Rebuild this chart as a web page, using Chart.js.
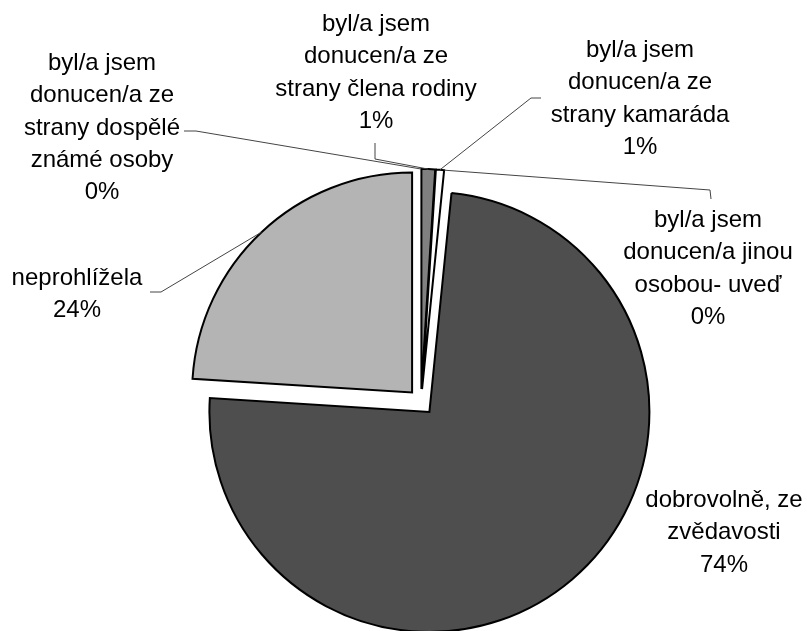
<!DOCTYPE html>
<html>
<head>
<meta charset="utf-8">
<script src="https://cdn.jsdelivr.net/npm/chart.js@4"></script>
<style>
  html, body { margin: 0; padding: 0; background: #fff; }
</style>
</head>
<body>
<canvas id="myChart" width="807" height="631"></canvas>
<script>
// slices in clockwise order from 12 o'clock
const labelLines = [
  ["byl/a jsem", "donucen/a ze", "strany člena rodiny"],
  ["byl/a jsem", "donucen/a ze", "strany kamaráda"],
  ["byl/a jsem", "donucen/a jinou", "osobou- uveď"],
  ["dobrovolně, ze", "zvědavosti"],
  ["neprohlížela"],
  ["byl/a jsem", "donucen/a ze", "strany dospělé", "známé osoby"]
];
const values = [1.0, 0.6, 0, 74.4, 24.0, 0];

const sliceColors = ["#808080", "#ffffff", "#ffffff", "#4e4e4e", "#b4b4b4", "#ffffff"];
const explode = [13, 13, 13, 13, 13, 13];

// where each data label sits (centre x, first baseline) and its leader start
const labelLayout = [
  { x: 376, y: 31, leader: [[375, 143], [375, 159]] },
  { x: 640, y: 57, leader: [[541, 98], [531, 98]] },
  { x: 708, y: 227, leader: [[711, 199], [710, 190]] },
  { x: 724, y: 507, leader: null },
  { x: 77, y: 285, leader: [[150, 292], [161, 292]] },
  { x: 102, y: 70, leader: [[184, 131], [196, 131]] }
];
const lineHeight = 32.3;

const total = values.reduce((a, b) => a + b, 0);
function pct(v) {
  return Math.round(v / total * 100) + "%";
}

const explodePlugin = {
  id: "explode",
  beforeDatasetDraw(chart, args) {
    const ctx = chart.ctx;
    args.meta.data.forEach((arc, i) => {
      if (!arc.circumference) return;
      const mid = (arc.startAngle + arc.endAngle) / 2;
      ctx.save();
      ctx.translate(Math.cos(mid) * explode[i], Math.sin(mid) * explode[i]);
      arc.draw(ctx, chart.chartArea);
      ctx.restore();
    });
    return false;
  }
};

const labelPlugin = {
  id: "pieLabels",
  afterDraw(chart) {
    const ctx = chart.ctx;
    const meta = chart.getDatasetMeta(0);
    ctx.save();
    ctx.font = '24px "Liberation Sans", Arial, sans-serif';
    ctx.fillStyle = "#000";
    ctx.textAlign = "center";
    ctx.textBaseline = "alphabetic";
    meta.data.forEach((arc, i) => {
      const lay = labelLayout[i];
      const lines = labelLines[i].concat([pct(values[i])]);
      lines.forEach((t, k) => ctx.fillText(t, lay.x, lay.y + k * lineHeight));
      if (lay.leader) {
        const mid = (arc.startAngle + arc.endAngle) / 2;
        const r = arc.outerRadius + explode[i];
        ctx.strokeStyle = "#444";
        ctx.lineWidth = 1;
        ctx.beginPath();
        ctx.moveTo(lay.leader[0][0], lay.leader[0][1]);
        for (let k = 1; k < lay.leader.length; k++) {
          ctx.lineTo(lay.leader[k][0], lay.leader[k][1]);
        }
        ctx.lineTo(arc.x + Math.cos(mid) * r, arc.y + Math.sin(mid) * r);
        ctx.stroke();
      }
    });
    ctx.restore();
  }
};

const ctx = document.getElementById("myChart");

const pieChart = new Chart(ctx, {
  type: "pie",
  data: {
    labels: labelLines,
    datasets: [
      {
        data: values,
        backgroundColor: sliceColors,
        borderColor: "#000",
        borderWidth: 2,
        borderJoinStyle: "miter"
      }
    ]
  },
  options: {
    responsive: false,
    animation: false,
    layout: {
      padding: { top: 181, bottom: 8, left: 160, right: 125 }
    },
    plugins: {
      legend: { display: false },
      tooltip: { enabled: false }
    }
  },
  plugins: [explodePlugin, labelPlugin]
});
</script>
</body>
</html>
